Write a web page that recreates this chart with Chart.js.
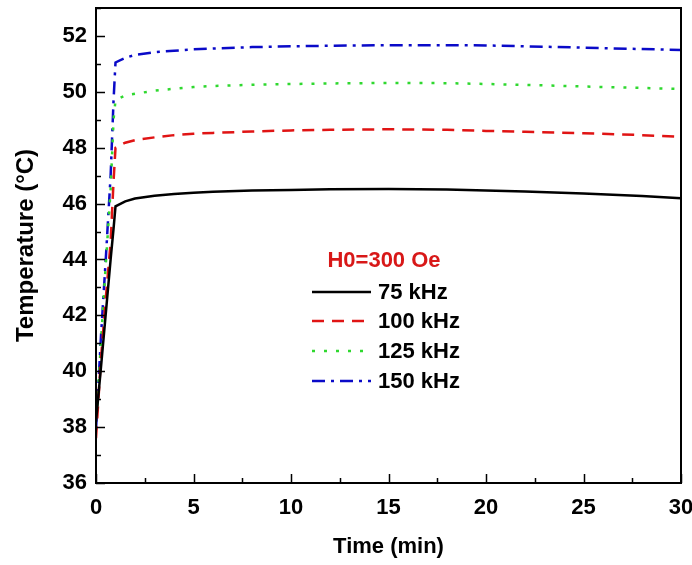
<!DOCTYPE html>
<html>
<head>
<meta charset="utf-8">
<title>Temperature vs time</title>
<script src="https://cdn.jsdelivr.net/npm/chart.js@4.4.1/dist/chart.umd.min.js"></script>
<style>
  body { margin: 0; background: #fff; }
  canvas { display: block; }
</style>
</head>
<body>
<canvas id="tempChart" width="692" height="565"></canvas>
<script>
// heating curves, time in minutes
const times   = [0, 0.25, 0.5, 0.75, 0.9, 1, 1.5, 2, 3, 4, 5, 6, 8, 10, 12, 15, 18, 20, 22, 25, 28, 30];
const temp75  = [38.2, 40.1, 42.05, 44.0, 45.1, 45.9, 46.08, 46.18, 46.28, 46.34, 46.39, 46.42, 46.47, 46.49, 46.51, 46.52, 46.5, 46.47, 46.43, 46.36, 46.27, 46.19];
const temp100 = [37.6, 40.4, 42.6, 44.6, 46.8, 48.0, 48.18, 48.27, 48.37, 48.45, 48.5, 48.53, 48.58, 48.62, 48.64, 48.66, 48.64, 48.6, 48.57, 48.52, 48.45, 48.39];
const temp125 = [37.9, 41.0, 43.8, 46.5, 49.0, 49.7, 49.87, 49.93, 50.04, 50.11, 50.17, 50.21, 50.25, 50.28, 50.3, 50.32, 50.31, 50.28, 50.25, 50.19, 50.14, 50.1];
const temp150 = [37.9, 41.2, 44.0, 47.0, 49.7, 51.05, 51.22, 51.32, 51.42, 51.47, 51.52, 51.55, 51.6, 51.63, 51.65, 51.67, 51.67, 51.66, 51.63, 51.58, 51.53, 51.5];
const seriesLabels = ['75 kHz', '100 kHz', '125 kHz', '150 kHz'];
const fieldLabel = 'H0=300 Oe';

const FONT = "'Liberation Sans', Arial, sans-serif";
const X_STEP = 5, Y_STEP = 2;

function toPoints(values) {
    return values.map((v, i) => ({ x: times[i], y: v }));
}

// inward ticks (major + minor) and the closed frame round the plot
const frameTicks = {
    id: 'frameTicks',
    afterDraw(chart) {
        const { ctx, chartArea: a, scales: { x, y } } = chart;
        ctx.save();
        ctx.strokeStyle = '#000';
        ctx.lineWidth = 1.5;
        ctx.beginPath();
        for (let v = x.min; v <= x.max + 1e-6; v += X_STEP / 2) {
            const px = Math.round(x.getPixelForValue(v)) + 0.5;
            const len = Math.abs(v % X_STEP) < 1e-6 ? 9 : 5;
            ctx.moveTo(px, a.bottom);
            ctx.lineTo(px, a.bottom - len);
        }
        for (let v = y.min; v <= y.max + 1e-6; v += Y_STEP / 2) {
            const py = Math.round(y.getPixelForValue(v)) + 0.5;
            const len = Math.abs(v % Y_STEP) < 1e-6 ? 9 : 5;
            ctx.moveTo(a.left, py);
            ctx.lineTo(a.left + len, py);
        }
        ctx.stroke();
        ctx.lineWidth = 2;
        ctx.strokeRect(a.left, a.top, a.right - a.left, a.bottom - a.top);
        ctx.restore();
    }
};

// legend box inside the plot, with the field strength on top
const innerLegend = {
    id: 'innerLegend',
    afterDraw(chart) {
        const { ctx } = chart;
        ctx.save();
        ctx.font = 'bold 22px ' + FONT;
        ctx.fillStyle = '#d81818';
        ctx.textAlign = 'center';
        ctx.textBaseline = 'middle';
        ctx.fillText(fieldLabel, 384, 261);

        const rows = [292, 321, 351, 381];
        chart.data.datasets.forEach((ds, i) => {
            ctx.strokeStyle = ds.borderColor;
            ctx.lineWidth = ds.borderWidth;
            ctx.setLineDash(ds.borderDash || []);
            ctx.beginPath();
            ctx.moveTo(312, rows[i]);
            ctx.lineTo(371, rows[i]);
            ctx.stroke();
            ctx.setLineDash([]);
            ctx.font = 'bold 22px ' + FONT;
            ctx.fillStyle = '#000';
            ctx.textAlign = 'left';
            ctx.fillText(ds.label, 378, rows[i] + 1);
        });
        ctx.restore();
    }
};

const ctx = document.getElementById('tempChart').getContext('2d');

new Chart(ctx, {
    type: 'line',
    data: {
        datasets: [
            { label: seriesLabels[0], data: toPoints(temp75),  borderColor: '#000000', borderWidth: 2.5 },
            { label: seriesLabels[1], data: toPoints(temp100), borderColor: '#e01414', borderWidth: 2.5, borderDash: [12, 8] },
            { label: seriesLabels[2], data: toPoints(temp125), borderColor: '#2fd82f', borderWidth: 2.5, borderDash: [3, 9] },
            { label: seriesLabels[3], data: toPoints(temp150), borderColor: '#0a0ac8', borderWidth: 2.5, borderDash: [13, 6, 3, 6] }
        ]
    },
    options: {
        responsive: false,
        animation: false,
        layout: { padding: { top: 8, right: 11, left: 0, bottom: 0 } },
        elements: {
            point: { radius: 0 },
            line: { tension: 0, fill: false }
        },
        scales: {
            x: {
                type: 'linear',
                min: 0,
                max: 30,
                ticks: { stepSize: X_STEP, padding: 12, color: '#000', font: { family: FONT, size: 22, weight: 'bold' } },
                grid: { display: false, drawTicks: false },
                border: { display: false },
                title: { display: true, text: 'Time (min)', color: '#000', padding: { top: 0, bottom: 5 }, font: { family: FONT, size: 22, weight: 'bold' } },
                afterFit: (scale) => {
                    scale.height = 82;
                    scale.paddingLeft = 0;
                    scale.paddingRight = 0;
                }
            },
            y: {
                min: 36,
                max: 53,
                ticks: { stepSize: Y_STEP, padding: 9, color: '#000', font: { family: FONT, size: 22, weight: 'bold' } },
                afterBuildTicks: (scale) => { scale.ticks = scale.ticks.filter(t => t.value <= 52); },
                grid: { display: false, drawTicks: false },
                border: { display: false },
                title: { display: true, text: 'Temperature (°C)', color: '#000', padding: { top: 12, bottom: 0 }, font: { family: FONT, size: 24, weight: 'bold' } },
                afterFit: (scale) => {
                    scale.width = 96;
                    scale.paddingTop = 0;
                    scale.paddingBottom = 0;
                }
            }
        },
        plugins: {
            legend: { display: false },
            tooltip: { enabled: false }
        }
    },
    plugins: [frameTicks, innerLegend]
});
</script>
</body>
</html>
